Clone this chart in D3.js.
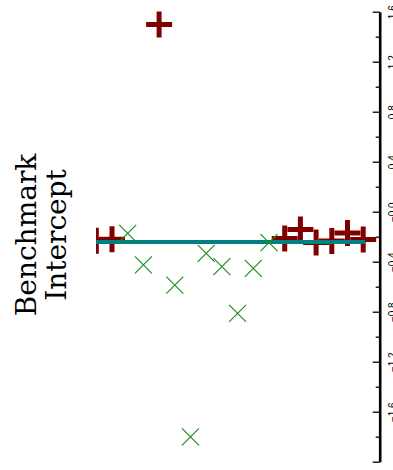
<!DOCTYPE html>
<html><head><meta charset="utf-8">
<script src="https://cdn.jsdelivr.net/npm/d3@7"></script>
<style>html,body{margin:0;padding:0;background:#fff;overflow:hidden}</style>
</head><body>
<svg id="chart" width="393" height="470"></svg>
<script>
// ---- data ----
const titleLines = ["Benchmark", "Intercept"];
const redIdx  = [0, 1, 4, 12, 13, 14, 15, 16, 17];
const redVals = [-0.233, -0.22, 1.497, -0.214, -0.142, -0.246, -0.234, -0.17, -0.222];
const greenIdx  = [2, 3, 5, 6, 7, 8, 9, 10, 11];
const greenVals = [-0.173, -0.426, -0.587, -1.802, -0.333, -0.44, -0.813, -0.453, -0.248];
const benchmark = -0.242;
const majorTicks = [1.6, 1.2, 0.8, 0.4, 0.0, -0.4, -0.8, -1.2, -1.6, -2.0];
const tickLabels = ["1.6", "1.2", "0.8", "0.4", "−0.0", "−0.4", "−0.8", "−1.2", "−1.6", ""];
const minorTicks = [1.4, 1.0, 0.6, 0.2, -0.2, -0.6, -1.0, -1.4, -1.8];

// ---- layout ----
const svg = d3.select("#chart");
const axisX = 379.7;
const y = d3.scaleLinear().domain([-2.0, 1.6]).range([461.7, 11.7]);
const x = d3.scaleLinear().domain([0, 17]).range([96.3, 363.2]);

svg.append("defs").append("clipPath").attr("id", "plot")
  .append("rect").attr("x", 96).attr("y", 0).attr("width", 285).attr("height", 470);

const plot = svg.append("g").attr("clip-path", "url(#plot)");

// red plus markers
const P = 13;
plot.selectAll("path.red").data(redIdx.map((d, i) => [d, redVals[i]])).join("path")
  .attr("class", "red")
  .attr("d", d => { const cx = x(d[0]), cy = y(d[1]);
    return `M${cx - P},${cy}H${cx + P}M${cx},${cy - P}V${cy + P}`; })
  .attr("stroke", "#800000").attr("stroke-width", 5).attr("fill", "none");

// benchmark line
plot.append("line")
  .attr("x1", x(0)).attr("x2", x(17)).attr("y1", y(benchmark)).attr("y2", y(benchmark))
  .attr("stroke", "#008080").attr("stroke-width", 4).attr("stroke-linecap", "square");

// green x markers
const Q = 8.5;
plot.selectAll("path.green").data(greenIdx.map((d, i) => [d, greenVals[i]])).join("path")
  .attr("class", "green")
  .attr("d", d => { const cx = x(d[0]), cy = y(d[1]);
    return `M${cx - Q},${cy - Q}L${cx + Q},${cy + Q}M${cx - Q},${cy + Q}L${cx + Q},${cy - Q}`; })
  .attr("stroke", "#1f8f1f").attr("stroke-width", 1.2).attr("fill", "none");

// axis
const minorAxis = d3.axisRight(y).tickValues(minorTicks).tickSizeInner(-4).tickSizeOuter(0).tickFormat("");
const gMinor = svg.append("g").attr("transform", `translate(${axisX},0)`).call(minorAxis);
gMinor.select(".domain").remove();
gMinor.selectAll(".tick line").attr("stroke", "#000").attr("stroke-width", 1.3);

const majorAxis = d3.axisRight(y).tickValues(majorTicks).tickSizeInner(-7).tickSizeOuter(0)
  .tickFormat((d, i) => tickLabels[i]);
const gMajor = svg.append("g").attr("transform", `translate(${axisX},0)`).call(majorAxis);
gMajor.select(".domain").attr("stroke", "#000").attr("stroke-width", 2.6);
gMajor.selectAll(".tick line").attr("stroke", "#000").attr("stroke-width", 1.3);
gMajor.selectAll(".tick text")
  .attr("x", 0).attr("dy", 0)
  .attr("text-anchor", "middle")
  .attr("transform", `translate(${395.5 - axisX},0) rotate(-90)`)
  .attr("font-family", "Liberation Sans, Arial, sans-serif")
  .attr("font-size", 10).attr("fill", "#000");

// title
const title = svg.append("g").attr("transform", "translate(35.5,235) rotate(-90)");
title.selectAll("text").data(titleLines).join("text")
  .attr("x", 0).attr("y", (d, i) => i * 30)
  .attr("text-anchor", "middle")
  .attr("font-family", "DejaVu Serif, serif")
  .attr("font-size", 28).attr("fill", "#000")
  .text(d => d);
</script>
</body></html>
